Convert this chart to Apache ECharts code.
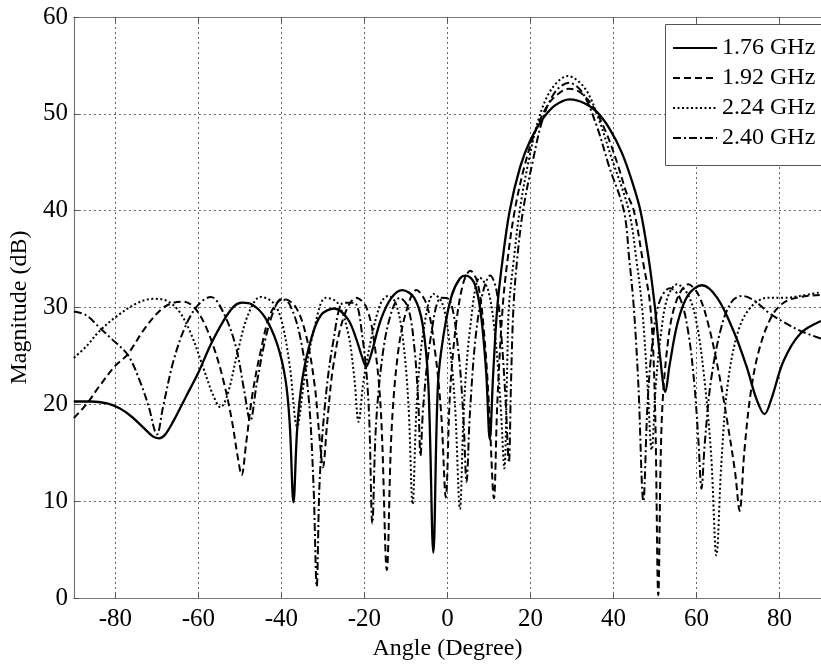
<!DOCTYPE html>
<html>
<head>
<meta charset="utf-8">
<script src="https://cdn.jsdelivr.net/npm/echarts@6/dist/echarts.min.js"></script>
<style>
html,body{margin:0;padding:0;background:#fff;overflow:hidden;}
#chart{width:821px;height:666px;}
</style>
</head>
<body>
<div id="chart"></div>
<script>
// ---- data (angle in degrees, magnitude in dB) ----
var seriesNames = ['1.76 GHz', '1.92 GHz', '2.24 GHz', '2.40 GHz'];
var xTicks = [-80, -60, -40, -20, 0, 20, 40, 60, 80];

var s176 = [[-90,20.3],[-86,20.3],[-82,20.1],[-79,19.6],[-76,18.7],[-73,17.5],[-71,16.7],[-69.5,16.5],[-68,16.9],[-66,18.3],[-63,20.8],[-60,23.3],[-57,26.2],[-54,28.6],[-51.5,30.1],[-49.5,30.5],[-47,30.3],[-44,29],[-41,26.2],[-39,22.5],[-38,18],[-37.1,9.9],[-36.2,17.5],[-35,22.5],[-33,26.5],[-30.5,29.2],[-27.2,29.9],[-24,28.8],[-22,26.8],[-20.5,24.8],[-19.6,23.9],[-18.5,25],[-16,28.8],[-13.5,31],[-10.9,31.8],[-8,31],[-6,28.3],[-4.6,22],[-3.4,4.7],[-2.3,22],[-1,27],[1,31.2],[3,33],[4.5,33.3],[6.5,32.5],[8,29.5],[9.3,23.5],[10.2,16.4],[11,23],[12,30],[13.3,35],[15,40],[17.5,44.5],[20,47.3],[23,49.5],[26,50.9],[29.5,51.5],[33,51.1],[36,50.2],[39,48.5],[42,46],[44.5,43],[46.5,40],[48.5,35],[50,30],[51.2,25],[52.5,21.3],[53.5,24],[55.5,28.5],[58,31.3],[61.3,32.3],[65,31],[69,27.5],[72,24],[74.5,20.5],[76.4,19],[78,20.5],[81,24.5],[85,27.3],[90,28.6]];

var s192 = [[-90,18.6],[-87,20],[-84,21.8],[-80,24],[-77,25.2],[-73,27.8],[-69,29.8],[-66,30.5],[-63.5,30.6],[-61,30],[-58.5,28.3],[-56,25.5],[-54,22.5],[-52,18.5],[-50.5,14.5],[-49.6,12.7],[-48.5,16],[-47,21],[-45,25.5],[-42.5,29.5],[-39.5,30.9],[-36.5,30],[-34,27],[-32,22],[-30.8,16.5],[-30,13.5],[-29,18],[-27.5,24],[-25,29],[-22,31],[-19.5,30],[-17.5,26],[-16,19],[-14.6,2.9],[-13.5,17],[-12,25],[-10,29.5],[-7.5,31.8],[-5,30.3],[-3,25.5],[-1.5,19],[-0.4,10.4],[0.6,21],[2,28],[3.8,32.5],[5.5,33.8],[7.3,32.5],[8.8,27.5],[10,20],[11.2,10.3],[12,20],[13.3,30],[14.5,35],[16.2,40],[18.5,44.5],[21,48],[24,50.8],[26.5,52],[29.3,52.6],[32,52.2],[35,50.8],[38,48.3],[41,44.8],[43,42],[44.9,40],[47,35],[48.9,30],[50,20],[50.8,0.3],[51.6,18],[53,26],[55,30.5],[58,32.4],[60.5,31.3],[63,28],[65.5,23],[67.5,18],[69.3,13],[70.4,9],[71.5,15],[73,21],[75,25.5],[78,29],[81,30.5],[85,31.1],[90,31.3]];

var s224 = [[-90,24.8],[-87,26],[-84,27.5],[-80,29],[-75,30.4],[-71,30.9],[-68.3,30.8],[-65,29.8],[-62,27.5],[-59,24],[-56.5,21],[-54.7,19.7],[-53,21],[-50.5,25.5],[-48,29.3],[-45,31.1],[-42,30.5],[-40,28.7],[-38,24],[-36.2,17.7],[-34.5,22.5],[-32,28],[-29.3,31],[-26.5,30.5],[-24,27.5],[-22.5,23],[-21.4,18.2],[-20.2,22.5],[-18,27.5],[-16,30.5],[-14.3,31.2],[-12.5,30.5],[-10.8,27],[-9.4,20],[-8.4,9.7],[-7.4,20],[-5.8,27.5],[-3.3,31.4],[-1.3,30.5],[0.3,27],[1.8,20],[3,9.2],[4,20],[5.5,28],[7.8,33.1],[9.8,31.8],[11.5,27],[12.8,20],[13.7,13.4],[14.4,24],[14.8,30],[16,35],[17.4,40],[19.5,45],[22,49.5],[25,52.5],[29,53.9],[33,52.7],[36,50],[39.5,45.5],[43.7,40],[45.5,35],[46.9,30],[48.2,22],[49.2,15.3],[50.2,22],[51.5,27.5],[53,31],[55.3,32.4],[58,31.3],[60,28.5],[61.8,23],[63.5,15],[64.8,4.4],[66,14],[67.5,22],[70,27.5],[73,30],[77,31],[81,31],[85,31.2],[90,31.6]];

var s240 = [[-90,29.6],[-87,29.2],[-84,28],[-81,26.8],[-77,25.1],[-74,22.3],[-72,19.8],[-70,16.9],[-68.5,19.8],[-66,24.5],[-63,28.2],[-60,30.3],[-57,31.1],[-54,29.5],[-51,26],[-49,21.5],[-47.5,18.3],[-46,22],[-44,26.5],[-42,29.5],[-40,30.9],[-38,30.3],[-35.5,27],[-33.5,21],[-32.3,12],[-31.5,1.2],[-30.8,12],[-29.5,20],[-27.5,26.5],[-25,30.5],[-22.5,30.5],[-20.5,27],[-19,20],[-18.1,7.7],[-17.2,18],[-15.5,25.5],[-13.5,29.5],[-11.5,31],[-9.5,30],[-8,26],[-7,20],[-6.5,14.7],[-5.8,20],[-4,27],[-1.5,31],[0.5,30.8],[2.5,26],[3.8,19],[4.6,12],[5.4,19],[6.8,27],[8.5,31.5],[10.3,33.3],[11.8,31.8],[13,27],[14,20.5],[14.8,14],[15.3,22],[15.9,30],[16.8,35],[18.2,40],[20.5,45],[23,49.5],[26,52.3],[29.3,53.2],[32.5,52.2],[36,48.7],[39,44.5],[42.5,40],[43.8,35],[44.9,30],[46,22],[47.2,10],[48.2,20],[49.3,26],[51,30.5],[53.6,32],[56,31],[58,27.5],[59.5,22],[60.5,16],[61.2,11.3],[62,16],[63.5,22.5],[66,28],[68.5,30.6],[71,31.2],[74,30.7],[77.3,29.5],[81,28.5],[85,27.6],[90,26.8]];

var seriesData = [s176, s192, s224, s240];
var dashTypes = ['solid', [7, 4], [2, 2.5], [8, 3, 2, 3]];
var widths = [2.3, 2, 2, 2];

var FONT = '"Liberation Serif", "Times New Roman", serif';
var chart = echarts.init(document.getElementById('chart'), null, {renderer: 'canvas'});

var series = seriesData.map(function (d, i) {
  return {
    name: seriesNames[i],
    type: 'line',
    data: d,
    xAxisIndex: 0,
    yAxisIndex: 0,
    showSymbol: false,
    symbol: 'none',
    smooth: 0.35,
    animation: false,
    lineStyle: {color: '#000', width: widths[i], type: dashTypes[i]},
    itemStyle: {color: '#000'},
    z: 3
  };
});

chart.setOption({
  backgroundColor: '#fff',
  animation: false,
  grid: {left: 73, top: 17, width: 752, height: 585, show: false, containLabel: false},
  graphic: [{
    type: 'rect',
    z: 15,
    silent: true,
    shape: {x: 666, y: 25, width: 160, height: 140},
    style: {fill: '#fff', stroke: null}
  }, {
    type: 'polyline',
    z: 16,
    silent: true,
    shape: {points: [[900, 24.5], [665.5, 24.5], [665.5, 165.5], [900, 165.5]]},
    style: {fill: null, stroke: '#555', lineWidth: 1}
  }],
  legend: {
    show: true,
    z: 20,
    orient: 'vertical',
    left: 665,
    top: 24,
    padding: [12, 0, 16, 7],
    itemWidth: 44,
    itemHeight: 14,
    itemGap: 6,
    borderWidth: 0,
    borderColor: 'transparent',
    backgroundColor: 'transparent',
    itemStyle: {opacity: 0},
    textStyle: {fontFamily: FONT, fontSize: 24, color: '#000'},
    data: seriesNames
  },
  xAxis: [{
    type: 'value',
    min: -90, max: 90,
    position: 'bottom',
    name: 'Angle (Degree)',
    nameLocation: 'middle',
    nameGap: 38,
    nameTextStyle: {fontFamily: FONT, fontSize: 24, color: '#000'},
    axisLine: {show: true, onZero: false, lineStyle: {color: '#777', width: 1.2}},
    axisTick: {show: true, inside: true, length: 5, customValues: xTicks, lineStyle: {color: '#555'}},
    axisLabel: {show: true, customValues: xTicks, margin: 9, fontFamily: FONT, fontSize: 25, color: '#000'},
    splitLine: {show: true, lineStyle: {color: '#666', width: 1, type: [2, 3]}}
  }, {
    type: 'value',
    min: -90, max: 90,
    position: 'top',
    axisLine: {show: true, onZero: false, lineStyle: {color: '#777', width: 1.2}},
    axisTick: {show: true, inside: true, length: 5, customValues: xTicks, lineStyle: {color: '#555'}},
    axisLabel: {show: false},
    splitLine: {show: false}
  }],
  yAxis: [{
    type: 'value',
    min: 0, max: 60, interval: 10,
    name: 'Magnitude (dB)',
    nameLocation: 'middle',
    nameGap: 40,
    nameRotate: 90,
    nameTextStyle: {fontFamily: FONT, fontSize: 24, color: '#000'},
    axisLine: {show: true, onZero: false, lineStyle: {color: '#777', width: 1.2}},
    axisTick: {show: true, inside: true, length: 5, lineStyle: {color: '#555'}},
    axisLabel: {show: true, margin: 6, fontFamily: FONT, fontSize: 25, color: '#000'},
    splitLine: {show: true, lineStyle: {color: '#666', width: 1, type: [2, 3]}}
  }],
  series: series
});
</script>
</body>
</html>
